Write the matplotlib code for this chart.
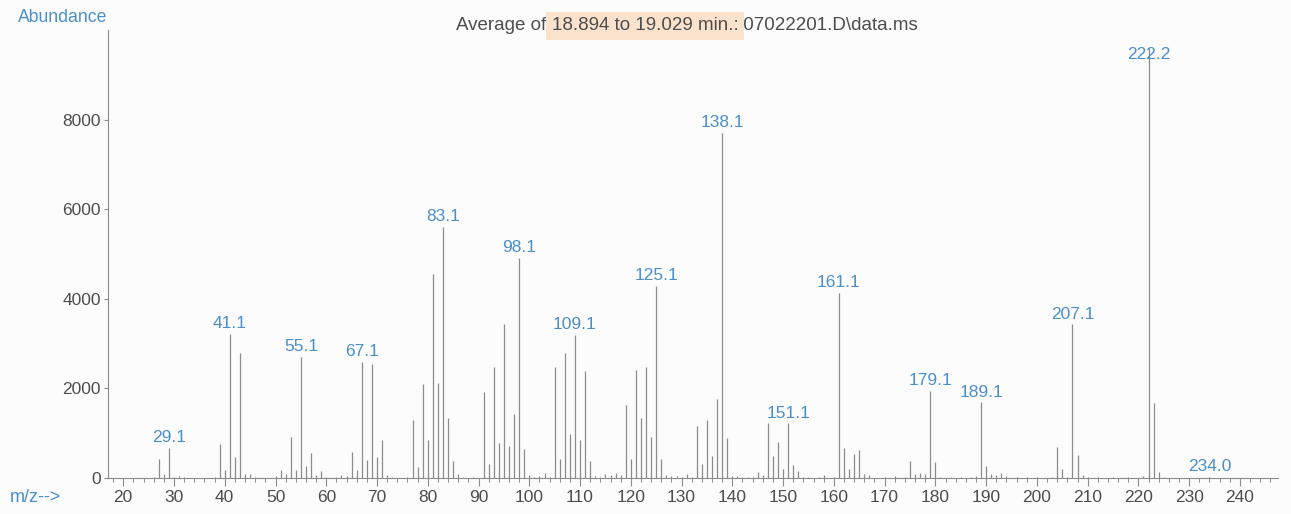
import numpy as np
import matplotlib
matplotlib.use("Agg")
import matplotlib.pyplot as plt

plt.rcParams['font.family'] = ['Liberation Sans', 'DejaVu Sans']

# m/z values and abundances
mz = [26, 27, 28, 29, 30, 31, 32, 38, 39, 40, 41, 42, 43, 44, 45, 46,
      50, 51, 52, 53, 54, 55, 56, 57, 58, 59, 60, 62, 63, 64, 65, 66, 67, 68, 69, 70, 71, 72, 73,
      76, 77, 78, 79, 80, 81, 82, 83, 84, 85, 86, 87, 89,
      91, 92, 93, 94, 95, 96, 97, 98, 99, 100, 101, 102, 103, 104,
      105, 106, 107, 108, 109, 110, 111, 112, 113, 114, 115, 116, 117, 118,
      119, 120, 121, 122, 123, 124, 125, 126, 127, 128, 129, 130, 131, 132,
      133, 134, 135, 136, 137, 138, 139, 140, 141, 142, 143, 144, 145, 146,
      147, 148, 149, 150, 151, 152, 153, 154, 155, 157, 158, 160,
      161, 162, 163, 164, 165, 166, 167, 170, 172, 174,
      175, 176, 177, 178, 179, 180, 181, 183, 185, 187, 188,
      189, 190, 191, 192, 193, 194, 196, 198, 200, 203,
      204, 205, 206, 207, 208, 209, 210, 212, 215, 218, 221,
      222, 223, 224, 225, 234]
abundance = [20, 430, 80, 680, 20, 50, 20, 30, 760, 185, 3220, 470, 2790, 80, 90, 20,
             40, 185, 80, 925, 170, 2700, 260, 555, 75, 150, 20, 20, 60, 40, 570, 170, 2600, 400, 2550, 470, 840, 60, 20,
             20, 1300, 250, 2090, 840, 4550, 2120, 5600, 1350, 380, 100, 20, 30,
             1920, 320, 2470, 790, 3440, 720, 1420, 4920, 650, 60, 20, 40, 110, 20,
             2470, 420, 2790, 990, 3190, 840, 2390, 380, 40, 20, 80, 60, 110, 70,
             1620, 420, 2400, 1340, 2470, 910, 4280, 420, 60, 40, 40, 30, 80, 20,
             1150, 320, 1290, 500, 1760, 7700, 890, 50, 40, 20, 30, 20, 140, 60,
             1220, 500, 800, 200, 1220, 290, 150, 30, 20, 20, 60, 20,
             4130, 670, 200, 530, 620, 80, 60, 30, 40, 30,
             390, 80, 110, 100, 1940, 350, 30, 20, 30, 30, 40,
             1690, 260, 80, 60, 110, 40, 20, 20, 20, 30,
             700, 190, 30, 3430, 520, 60, 30, 20, 20, 20, 40,
             9600, 1670, 130, 30, 20]

# labelled peaks
label_mz = [29, 41, 55, 67, 83, 98, 109, 125, 138, 151, 161, 179, 189, 207, 222, 234]
label_text = ['29.1', '41.1', '55.1', '67.1', '83.1', '98.1', '109.1', '125.1', '138.1',
              '151.1', '161.1', '179.1', '189.1', '207.1', '222.2', '234.0']

yticks = [0, 2000, 4000, 6000, 8000]
xticks = list(range(20, 241, 10))

blue = '#4a8fcc'
grey_txt = '#4d4d4d'
line_c = '#8c8c8c'

fig = plt.figure(figsize=(12.91, 5.14), dpi=100, facecolor='#fcfcfc')
ax = fig.add_axes([108 / 1291, 36 / 514, 1170 / 1291, 448 / 514])
ax.set_facecolor('#fcfcfc')

ax.vlines(mz, 0, abundance, color=line_c, lw=0.9)

lookup = dict(zip(mz, abundance))
for m, t in zip(label_mz, label_text):
    dy = -10 if m == 222 else 2
    ax.annotate(t, (m, lookup[m]), xytext=(0, dy), textcoords='offset points',
                ha='center', va='bottom', color=blue, fontsize=12.5)

ax.set_xlim(17, 247.5)
ax.set_ylim(0, 10000)
ax.set_xticks(xticks)
ax.set_xticks(np.arange(18, 248, 2), minor=True)
ax.set_yticks(yticks)
ax.tick_params(axis='x', which='major', length=6, width=0.8, color=line_c,
               labelsize=12.5, labelcolor=grey_txt, pad=3)
ax.tick_params(axis='x', which='minor', length=3, width=0.7, color=line_c)
ax.tick_params(axis='y', which='major', length=3, width=0.8, color=line_c,
               labelsize=12.5, labelcolor=grey_txt, pad=2)
for s in ['top', 'right']:
    ax.spines[s].set_visible(False)
for s in ['left', 'bottom']:
    ax.spines[s].set_color(line_c)
    ax.spines[s].set_linewidth(0.8)

fig.text(18 / 1291, 1 - 18 / 514, 'Abundance', color=blue, fontsize=12.7,
         ha='left', va='center')
fig.text(10 / 1291, 1 - 497 / 514, 'm/z-->', color=blue, fontsize=13,
         ha='left', va='center')

# title in three pieces, the middle one highlighted
fig.canvas.draw()
r = fig.canvas.get_renderer()
x = 456
ty = 1 - 26 / 514
pieces = [('Average of ', None), ('18.894 to 19.029 min.:', '#fbe2cc'),
          (' 07022201.D\\data.ms', None)]
for s, bg in pieces:
    kw = {}
    if bg:
        kw['bbox'] = dict(boxstyle='square,pad=0.3', fc=bg, ec='none')
    t = fig.text(x / 1291, ty, s, color=grey_txt, fontsize=13.5, ha='left',
                 va='center', **kw)
    x += t.get_window_extent(r).width

fig.savefig('out.png', dpi=100, facecolor=fig.get_facecolor())
